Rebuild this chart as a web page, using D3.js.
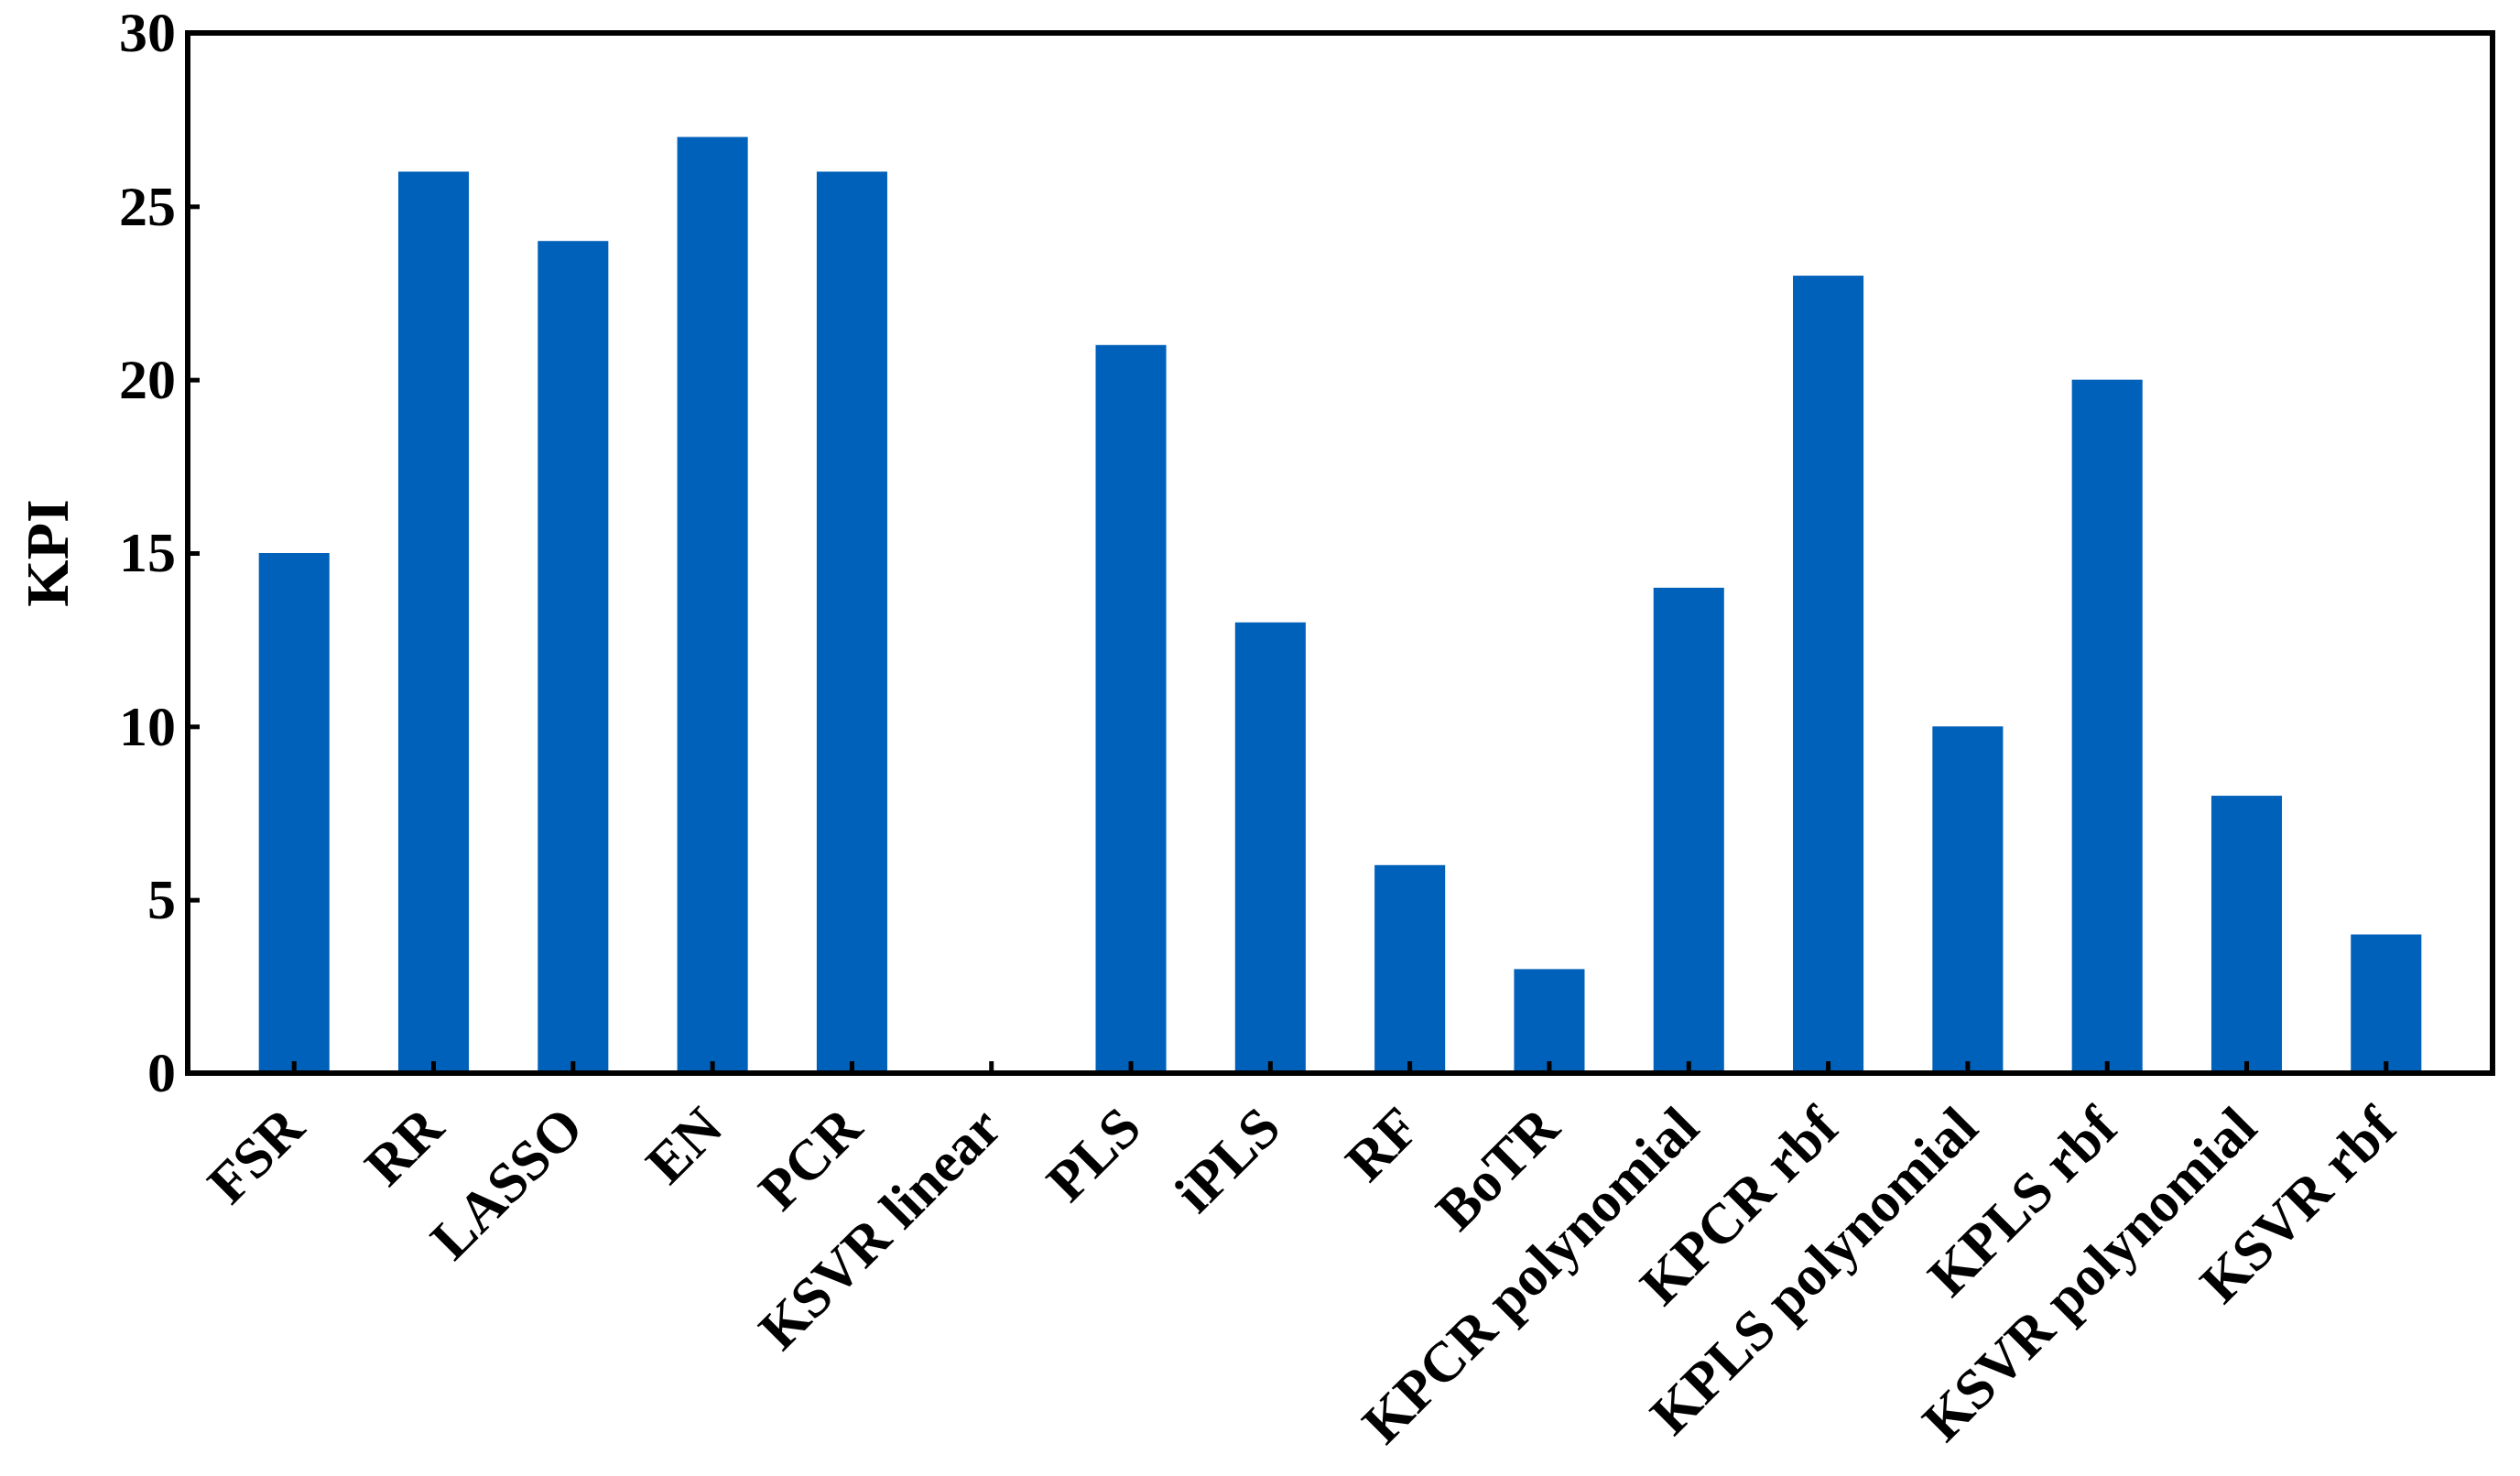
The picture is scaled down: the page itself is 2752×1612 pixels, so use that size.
<!DOCTYPE html>
<html>
<head>
<meta charset="utf-8">
<script src="https://cdn.jsdelivr.net/npm/d3@7"></script>
<style>
  html, body { margin: 0; padding: 0; background: #fff; }
  svg { display: block; }
</style>
</head>
<body>
<svg id="chart" width="2752" height="1612"></svg>
<script>
const categories = ["FSR", "RR", "LASSO", "EN", "PCR", "KSVR linear", "PLS", "iPLS", "RF", "BoTR",
  "KPCR polynomial", "KPCR rbf", "KPLS polynomial", "KPLS rbf", "KSVR polynomial", "KSVR rbf"];
const kpiValues = [15, 26, 24, 27, 26, 0, 21, 13, 6, 3, 14, 23, 10, 20, 8, 4];
const yTicks = [0, 5, 10, 15, 20, 25, 30];
const yLabel = "KPI";

const svg = d3.select("#chart");
const m = { left: 205, right: 2722, top: 36, bottom: 1172 };
const font = "'Liberation Serif', 'Times New Roman', serif";

const x = d3.scaleBand().domain(categories).range([m.left, m.right])
  .paddingInner(0.494).paddingOuter(0.51);
const y = d3.scaleLinear().domain([0, 30]).range([m.bottom, m.top]);

svg.append("g").selectAll("rect").data(categories).join("rect")
  .attr("x", d => x(d))
  .attr("width", x.bandwidth())
  .attr("y", (d, i) => y(kpiValues[i]))
  .attr("height", (d, i) => y(0) - y(kpiValues[i]))
  .attr("fill", "#0061bb");

// Y axis
const yAxis = svg.append("g").attr("transform", `translate(${m.left},0)`)
  .call(d3.axisLeft(y).tickValues(yTicks).tickSizeInner(-13).tickSizeOuter(0).tickPadding(13));
yAxis.select(".domain").remove();
yAxis.selectAll(".tick line").attr("stroke", "#000").attr("stroke-width", 5);
yAxis.selectAll(".tick text").attr("font-family", font).attr("font-weight", "bold")
  .attr("font-size", 62).attr("fill", "#000");

// X axis
const xAxis = svg.append("g").attr("transform", `translate(0,${m.bottom})`)
  .call(d3.axisBottom(x).tickSizeInner(-13).tickSizeOuter(0));
xAxis.select(".domain").remove();
xAxis.selectAll(".tick line").attr("stroke", "#000").attr("stroke-width", 5);
xAxis.selectAll(".tick text")
  .attr("font-family", font).attr("font-weight", "bold").attr("font-size", 62).attr("fill", "#000")
  .attr("text-anchor", "end").attr("dy", null).attr("y", null)
  .attr("transform", "translate(14,63) rotate(-45)");

// Frame
svg.append("rect")
  .attr("x", m.left).attr("y", m.top)
  .attr("width", m.right - m.left).attr("height", m.bottom - m.top)
  .attr("fill", "none").attr("stroke", "#000").attr("stroke-width", 6);

// Y label
svg.append("text")
  .attr("transform", `translate(74,${(m.top + m.bottom) / 2}) rotate(-90)`)
  .attr("text-anchor", "middle")
  .attr("font-family", font).attr("font-weight", "bold").attr("font-size", 66)
  .text(yLabel);
</script>
</body>
</html>
